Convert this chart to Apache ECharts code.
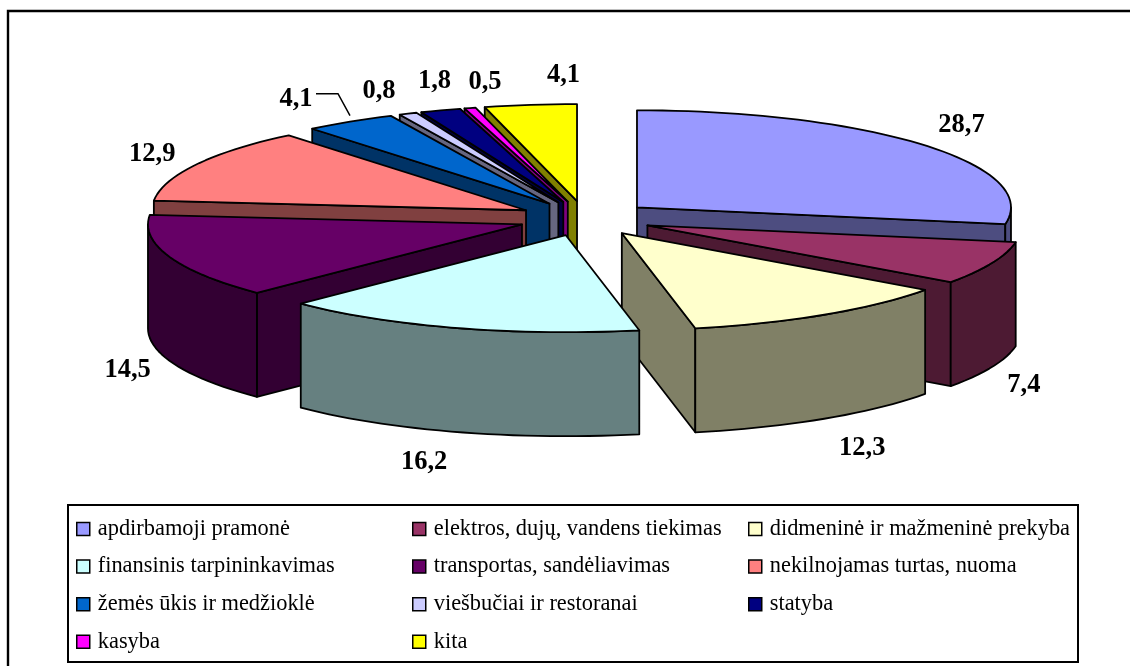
<!DOCTYPE html>
<html><head><meta charset="utf-8">
<style>html,body{margin:0;padding:0;background:#fff}#c{width:1130px;height:666px}</style>
<script src="https://cdn.jsdelivr.net/npm/echarts@6/dist/echarts.min.js"></script>
</head><body><div id="c"></div>
<script>
const categories = ['apdirbamoji pramonė','elektros, dujų, vandens tiekimas','didmeninė ir mažmeninė prekyba','finansinis tarpininkavimas','transportas, sandėliavimas','nekilnojamas turtas, nuoma','žemės ūkis ir medžioklė','viešbučiai ir restoranai','statyba','kasyba','kita'];
const values = [28.7,7.4,12.3,16.2,14.5,12.9,4.1,0.8,1.8,0.5,4.1];
const valueLabels = ['28,7','7,4','12,3','16,2','14,5','12,9','4,1','0,8','1,8','0,5','4,1'];
const topColors = ['#9999ff','#993366','#ffffcc','#ccffff','#660066','#ff8080','#0066cc','#ccccff','#000080','#ff00ff','#ffff00'];
const sideColors = ['#4d4d80','#4d1a33','#808066','#668080','#330033','#804040','#003366','#666680','#000040','#800080','#808000'];
const paintOrder = [0,10,9,8,7,6,5,4,1,2,3];
const labelOffsets = [[38,-20],[32,122],[38,133],[-33,134],[-42,113],[-44,-10],[-54,-23],[-29,-23],[-6,-29],[15,-26],[33,-30]];
const legendColumns = [[0,3,6,9],[1,4,7,10],[2,5,8]];
const legendLeft = [76,412,748];

const EXPLODE = 0.18, DEPTH = 104/97, STEP = 2;
const total = values.reduce((a,b)=>a+b,0);
const toDeg = v => v/total*360;
let run = 0;
const starts = values.map(v=>{const s=run; run+=toDeg(v); return s;});

function rimPoint(theta, ox, oy){
  const r = theta*Math.PI/180;
  return [ox+Math.sin(r), oy+Math.cos(r)];
}
function renderSlice(i){
  return function(params, api){
    const value = api.value(0);
    const a0 = starts[i], a1 = a0+toDeg(value), mid = (a0+a1)/2, m = mid*Math.PI/180;
    const ox = EXPLODE*Math.sin(m), oy = EXPLODE*Math.cos(m);
    const c = p => api.coord(p);
    const drop = p => [p[0],p[1]-DEPTH];
    const apex = [ox,oy];
    const arc = [];
    const n = Math.max(2,Math.ceil((a1-a0)/STEP));
    for(let k=0;k<=n;k++) arc.push(rimPoint(a0+(a1-a0)*k/n,ox,oy));
    const line = {stroke:'#000',lineWidth:1.8,lineJoin:'round'};
    const poly = (pts,fill)=>({type:'polygon',shape:{points:pts.map(c)},style:{fill,...line}});
    const side = sideColors[i], kids = [];
    const first = rimPoint(a0,ox,oy), last = rimPoint(a1,ox,oy);
    if(a0>180 && a0<360) kids.push(poly([apex,first,drop(first),drop(apex)],side));
    if(a1>0 && a1<180) kids.push(poly([apex,last,drop(last),drop(apex)],side));
    const lo = Math.max(a0,90), hi = Math.min(a1,270);
    if(hi>lo){
      const front=[]; const nf=Math.max(2,Math.ceil((hi-lo)/STEP));
      for(let k=0;k<=nf;k++) front.push(rimPoint(lo+(hi-lo)*k/nf,ox,oy));
      kids.push(poly(front.concat(front.slice().reverse().map(drop)),side));
    }
    kids.push(poly([apex].concat(arc),topColors[i]));
    const anchor = c(rimPoint(mid,ox,oy));
    if(i===6) kids.push({type:'polyline',shape:{points:[[anchor[0],anchor[1]-6],[anchor[0]-12,anchor[1]-28],[anchor[0]-34,anchor[1]-28]]},style:{fill:null,stroke:'#000',lineWidth:1.5}});
    kids.push({type:'text',x:anchor[0]+labelOffsets[i][0],y:anchor[1]+labelOffsets[i][1],
      style:{text:valueLabels[i],fill:'#000',font:'bold 26.5px "Liberation Serif"',align:'center',verticalAlign:'middle'}});
    return {type:'group',children:kids};
  };
}
const frameLine = {stroke:'#000',lineWidth:2.4};
const option = {
  backgroundColor:'#fff', animation:false,
  grid:{left:136.6,top:73,width:897.6,height:388,show:false},
  xAxis:{type:'value',min:-1.2,max:1.2,show:false},
  yAxis:{type:'value',min:-2.5,max:1.5,show:false},
  legend: legendColumns.map((col,j)=>({
    orient:'vertical',left:legendLeft[j],top:518,itemWidth:13,itemHeight:13,itemGap:15.6,
    selectedMode:false,padding:0,
    textStyle:{fontFamily:'Liberation Serif',fontSize:22.4,color:'#000',lineHeight:18,padding:[0,0,0,3]},
    data:col.map(i=>({name:categories[i],icon:'rect',itemStyle:{color:topColors[i],borderColor:'#000',borderWidth:1.5}}))
  })),
  graphic:[
    {type:'polyline',z:-1,shape:{points:[[8,666],[8,11],[1130,11]]},style:{fill:null,...frameLine}},
    {type:'rect',z:-1,shape:{x:68,y:505,width:1010,height:157},style:{fill:'#fff',stroke:'#000',lineWidth:2}}
  ],
  series: paintOrder.map(i=>({
    type:'custom',name:categories[i],coordinateSystem:'cartesian2d',clip:false,silent:true,
    itemStyle:{color:topColors[i]},
    encode:{x:0,y:0},renderItem:renderSlice(i),data:[[values[i]]],z:2
  }))
};
echarts.init(document.getElementById('c'),null,{renderer:'canvas'}).setOption(option);
</script></body></html>
